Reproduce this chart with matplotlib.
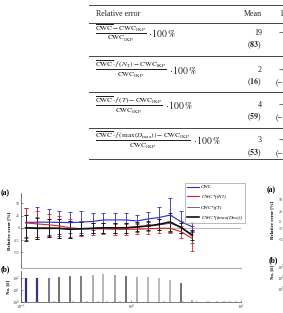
import numpy as np
import matplotlib
matplotlib.use('Agg')
import matplotlib.pyplot as plt

plt.rcParams['font.family'] = 'Liberation Serif'
plt.rcParams['mathtext.fontset'] = 'stix'

W, H = 283, 313

# table values
row_fracs = [
    r'$\frac{\overline{\mathrm{CWC}}-\mathrm{CWC}_{\mathrm{IKP}}}{\mathrm{CWC}_{\mathrm{IKP}}}$',
    r'$\frac{\overline{\mathrm{CWC}}\cdot f\,(N_{\mathrm{T}})-\mathrm{CWC}_{\mathrm{IKP}}}{\mathrm{CWC}_{\mathrm{IKP}}}$',
    r'$\frac{\overline{\mathrm{CWC}}\cdot f\,(T)-\mathrm{CWC}_{\mathrm{IKP}}}{\mathrm{CWC}_{\mathrm{IKP}}}$',
    r'$\frac{\overline{\mathrm{CWC}}\cdot f\,(\mathrm{max}(D_{\mathrm{max}}))-\mathrm{CWC}_{\mathrm{IKP}}}{\mathrm{CWC}_{\mathrm{IKP}}}$',
]
mean_vals = ['19', '2', '4', '3']
mean_abs = ['83', '16', '59', '53']
next_col = ['\u221210', '\u22124', '\u22123', '\u22124']
next_abs = ['', '(\u221213)', '(\u221213)', '(\u221216)']

# panel (a): size bins and relative errors [%]
size_bins = [0.11, 0.14, 0.18, 0.22, 0.28, 0.35, 0.45, 0.56, 0.71, 0.9,
             1.13, 1.43, 1.8, 2.27, 2.87, 3.62]
cwc = [11, 11.5, 11.5, 11, 10.5, 11.5, 13, 16, 16, 16, 14, 18, 21, 26, 12, 2]
cwc_err = [29, 30, 27, 24, 21, 22, 18, 15, 15, 15, 13, 13.5, 21, 34, 23, 10]
cwc_nt = [10, 8, 6, 4, 0, -2, -2, -2, -3, -3, -3, -2, -1, -1, -8, -22]
cwc_nt_err = [30, 27, 22, 20, 18, 15, 12, 11, 11, 11, 10, 10, 10, 10, 12, 25]
cwc_t = [1, 0, 0, -1, -3, -2, -1, 0, 0, 0, 1, 3, 6, 9, 2, -18]
cwc_t_err = [26, 22, 18, 19, 17, 13, 10.5, 10, 10, 10, 9, 9, 11, 18, 12, 12]
cwc_d = [0, -1, -1, -1, -3, -2, -1, 0, 0, 0, 2, 4, 7, 12, 0, -15]
cwc_d_err = [26, 22, 18, 19, 17, 13, 10.5, 10, 10, 10, 9, 9, 11, 18, 10, 10]

# panel (b): number of cases per bin
counts = [105, 95, 95, 128, 146, 156, 188, 200, 178, 156, 128, 115, 95, 68, 36, 1.5]
bar_colors = ['#2e2e90', '#34348a', '#555575', '#4a4a4a', '#505050', '#5a5a5a',
              '#999999', '#a5a5a5', '#8a8a8a', '#4a4a4a', '#9a9a9a', '#a5a5a5',
              '#aaaaaa', '#a5a5a5', '#4a4a4a', '#999999']


def fx(x):
    return x / W


def fy(y):
    return 1 - y / H


fig = plt.figure(figsize=(W / 100, H / 100), dpi=100)
renderer = fig.canvas.get_renderer()
tc = '#222222'

# ---- table ----
for y in [5, 23, 56, 92, 127.5, 159]:
    fig.add_artist(plt.Line2D([fx(89), 1.0], [fy(y), fy(y)], color='#444444', lw=0.7))
fig.text(fx(96), fy(14), 'Relative error', fontsize=5.8, va='center', color=tc)
fig.text(fx(262), fy(14), 'Mean', fontsize=5.8, va='center', ha='right', color=tc)
fig.text(fx(279), fy(14), '1st', fontsize=5.8, va='center', color=tc)
row_y = [33, 69.5, 105, 140.5]
for i in range(4):
    t = fig.text(fx(95), fy(row_y[i]), row_fracs[i], fontsize=7.6, va='center', color=tc)
    bb = t.get_window_extent(renderer)
    fig.text(fx(bb.x1 + 2), fy(row_y[i]), r'$\cdot\,100\,\%$', fontsize=7, va='center', color=tc)
    fig.text(fx(262), fy(row_y[i]), mean_vals[i], fontsize=5.8, va='center', ha='right', color=tc)
    fig.text(fx(262), fy(row_y[i] + 12.5), '(' + r'$\mathbf{%s}$' % mean_abs[i] + ')',
             fontsize=5.8, va='center', ha='right', color=tc)
    fig.text(fx(279), fy(row_y[i]), next_col[i], fontsize=5.8, va='center', color=tc)
    fig.text(fx(276), fy(row_y[i] + 12.5), next_abs[i], fontsize=5.8, va='center', color=tc)

# ---- panel (a) ----
ax = fig.add_axes([fx(21), fy(268), fx(220), 75 / H])
ax.set_xscale('log')
ax.set_xlim(0.1, 10)
ax.set_ylim(-82, 71)
ax.axhline(0, color='#bbbbbb', lw=0.8, zorder=0)
series = [
    (cwc, cwc_err, '#2a2ad0', 0.8, 'CWC'),
    (cwc_nt, cwc_nt_err, '#e02020', 0.8, r'CWC*f(N$_T$)'),
    (cwc_t, cwc_t_err, '#555555', 0.6, 'CWC*f(T)'),
    (cwc_d, cwc_d_err, '#111111', 1.2, r'CWC*f(max(D$_{max}$))'),
]
handles = []
for vals, err, col, lw, lab in series:
    eb = ax.errorbar(size_bins, vals, yerr=err, color=col, lw=lw, elinewidth=0.6,
                     capsize=1.2, capthick=0.6, label=lab)
    handles.append(eb)
ax.set_yticks([-50, -25, 0, 25, 50])
ax.set_yticklabels(['-50', '-25', '0', '25', '50'])
ax.tick_params(axis='y', labelsize=3, length=1.5, width=0.4, direction='in', pad=1, colors='#444444')
ax.tick_params(axis='x', which='both', bottom=False, labelbottom=False)
for s in ['top', 'right']:
    ax.spines[s].set_visible(False)
ax.spines['left'].set_linewidth(0.5)
ax.spines['left'].set_color('#444444')
ax.spines['bottom'].set_color('#aaaaaa')
ax.spines['bottom'].set_linewidth(0.8)
ax.set_ylabel('Relative error [%]', fontsize=3.5, fontweight='bold', labelpad=2)
fig.text(fx(1), fy(193), '(a)', fontsize=5.5, fontweight='bold', va='center')

leg = fig.legend([h[0] for h in handles], [s[4] for s in series], loc='upper left',
                 bbox_to_anchor=(fx(185), fy(183)), borderaxespad=0,
                 frameon=True, fancybox=False, edgecolor='#888888', handlelength=2.4,
                 handletextpad=0.3, borderpad=0.35, labelspacing=0.75,
                 prop={'style': 'italic', 'size': 3.7})
leg.get_frame().set_linewidth(0.5)

# ---- panel (b) ----
bx = fig.add_axes([fx(21), fy(302), fx(220), 31 / H])
bx.set_xscale('log')
bx.set_yscale('log')
bx.set_xlim(0.1, 10)
bx.set_ylim(1, 380)
widths = [1.6, 1.6] + [1.1] * 14
for xi, c, col, w in zip(size_bins, counts, bar_colors, widths):
    bx.vlines(xi, 1, c, color=col, lw=w)
bx.set_yticks([1, 10, 100])
bx.tick_params(axis='both', which='major', labelsize=3.2, length=1.5, width=0.4,
               direction='in', pad=1, colors='#444444')
bx.tick_params(axis='x', which='major', pad=0.8)
bx.tick_params(axis='both', which='minor', length=1, width=0.3, direction='in')
for s in ['top', 'right']:
    bx.spines[s].set_visible(False)
for s in ['left', 'bottom']:
    bx.spines[s].set_linewidth(0.5)
    bx.spines[s].set_color('#444444')
bx.set_ylabel('No. [#]', fontsize=3.5, fontweight='bold', labelpad=1)
fig.text(fx(1), fy(269), '(b)', fontsize=5.5, fontweight='bold', va='center')

# ---- cut-off neighbour panel on the right ----
fig.text(fx(267), fy(190), '(a)', fontsize=5.5, fontweight='bold', va='center')
fig.text(fx(273), fy(220), 'Relative error [%]', fontsize=3.5, fontweight='bold',
         rotation=90, va='center', ha='center')
for yy, lab in zip([200, 212, 222, 229, 240], ['50', '25', '0', '-25', '-50']):
    fig.text(fx(279), fy(yy), lab, fontsize=3, va='center', color='#444444')
fig.text(fx(269), fy(260), '(b)', fontsize=5.5, fontweight='bold', va='center')
fig.text(fx(272), fy(272), 'No. [#]', fontsize=3.5, fontweight='bold', rotation=90,
         va='center', ha='center')
for yy, e in zip([268, 279, 290], ['2', '1', '0']):
    fig.text(fx(277), fy(yy), r'10$^{%s}$' % e, fontsize=3.2, va='center', color='#444444')

fig.savefig('out.png', dpi=100)
